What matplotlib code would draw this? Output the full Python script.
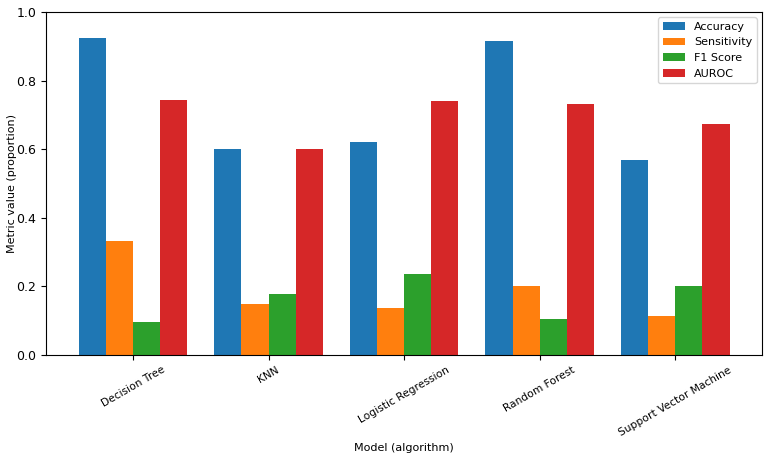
import numpy as np
import matplotlib
matplotlib.use("Agg")
import matplotlib.pyplot as plt

# Dados
modelos = ['Decision Tree', 'KNN', 'Logistic Regression', 'Random Forest', 'Support Vector Machine']
accuracy = [0.923, 0.600, 0.621, 0.915, 0.568]
sensitivity = [0.333, 0.150, 0.138, 0.200, 0.115]
f1_score = [0.095, 0.179, 0.236, 0.104, 0.200]
auroc = [0.743, 0.600, 0.739, 0.733, 0.673]

metricas = ['Accuracy', 'Sensitivity', 'F1 Score', 'AUROC']
valores = [accuracy, sensitivity, f1_score, auroc]

fig, ax = plt.subplots(figsize=(7.69, 4.57), dpi=100)
fig.subplots_adjust(left=0.06, right=0.991, top=0.974, bottom=0.223)

x = np.arange(len(modelos))
largura = 0.2
for i, (nome, vals) in enumerate(zip(metricas, valores)):
    ax.bar(x + (i - 1.5) * largura, vals, largura, label=nome)

ax.set_ylim(0, 1.0)
ax.set_xticks(x)
ax.set_xticklabels(modelos, rotation=30, fontsize=7.7)
ax.tick_params(axis='y', labelsize=9)
ax.set_xlabel('Model (algorithm)', fontsize=8)
ax.set_ylabel('Metric value (proportion)', fontsize=8)
ax.yaxis.set_label_coords(-0.041, 0.5)
ax.legend(fontsize=8)

plt.savefig('out.png', dpi=100)
plt.close()
